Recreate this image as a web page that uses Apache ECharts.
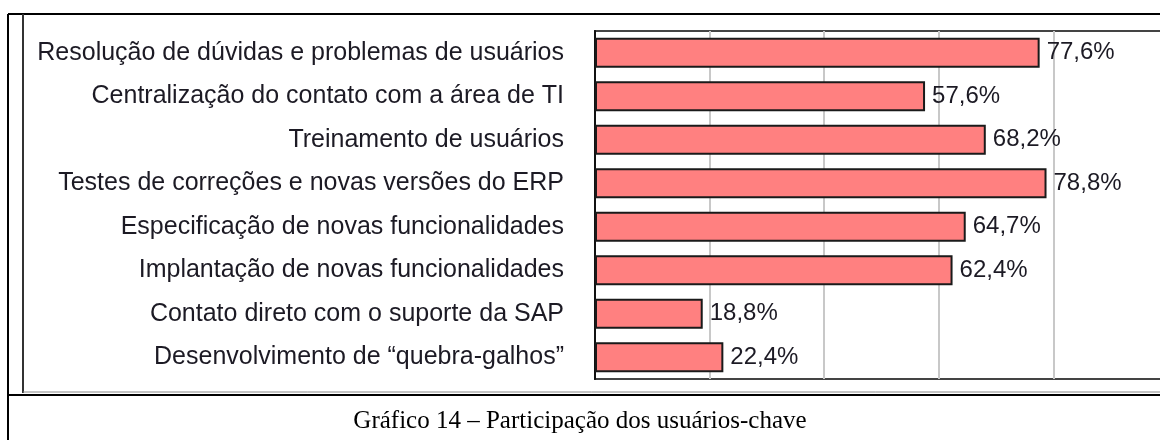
<!DOCTYPE html>
<html>
<head>
<meta charset="utf-8">
<script src="https://cdn.jsdelivr.net/npm/echarts@6/dist/echarts.min.js"></script>
<style>
  html, body { margin: 0; padding: 0; background: #fff; }
  #chart { width: 1160px; height: 440px; }
</style>
</head>
<body>
<div id="chart"></div>
<script>
// categories from top to bottom
var categories = [
  "Resolução de dúvidas e problemas de usuários",
  "Centralização do contato com a área de TI",
  "Treinamento de usuários",
  "Testes de correções e novas versões do ERP",
  "Especificação de novas funcionalidades",
  "Implantação de novas funcionalidades",
  "Contato direto com o suporte da SAP",
  "Desenvolvimento de “quebra-galhos”"
];
var values = [77.6, 57.6, 68.2, 78.8, 64.7, 62.4, 18.8, 22.4];
var caption = "Gráfico 14 – Participação dos usuários-chave";

var myChart = echarts.init(document.getElementById("chart"));

var option = {
  animation: false,
  title: {
    text: caption,
    left: "center",
    top: 409,
    padding: 0,
    textStyle: {
      fontFamily: "Liberation Serif",
      fontSize: 25,
      fontWeight: "normal",
      color: "#000"
    }
  },
  grid: {
    left: 595,
    width: 573,
    top: 31,
    bottom: 61,
    outerBoundsMode: "none",
    show: true,
    borderColor: "#444",
    borderWidth: 2
  },
  xAxis: {
    type: "value",
    min: 0,
    max: 100,
    interval: 20,
    axisLine: { show: false },
    axisTick: { show: false },
    axisLabel: { show: false },
    splitLine: { lineStyle: { color: "#c8c8c8", width: 2 } }
  },
  yAxis: {
    type: "category",
    inverse: true,
    data: categories,
    axisLine: { lineStyle: { color: "#111", width: 2 } },
    axisTick: { show: false },
    axisLabel: {
      margin: 31,
      fontFamily: "Liberation Sans",
      fontSize: 25,
      color: "#1c1a24"
    }
  },
  series: [
    {
      type: "bar",
      data: values,
      barCategoryGap: "31%",
      itemStyle: {
        color: "#ff8080",
        borderColor: "#1a1a1a",
        borderWidth: 2
      },
      label: {
        show: true,
        position: "right",
        distance: 7,
        fontFamily: "Liberation Sans",
        fontSize: 24,
        color: "#1c1a24",
        formatter: function (p) {
          return p.value.toFixed(1).replace(".", ",") + "%";
        }
      }
    }
  ],
  graphic: [
    // table frame
    { type: "line", shape: { x1: 8, y1: 14, x2: 1160, y2: 14 }, style: { stroke: "#000", lineWidth: 2 } },
    { type: "line", shape: { x1: 8, y1: 14, x2: 8, y2: 440 }, style: { stroke: "#000", lineWidth: 2 } },
    { type: "line", shape: { x1: 8, y1: 395, x2: 1160, y2: 395 }, style: { stroke: "#000", lineWidth: 2 } },
    // chart picture frame
    { type: "line", shape: { x1: 23, y1: 14, x2: 23, y2: 393 }, style: { stroke: "#333", lineWidth: 2 } },
    { type: "line", shape: { x1: 23, y1: 392, x2: 1160, y2: 392 }, style: { stroke: "#888", lineWidth: 1 } }
  ]
};

myChart.setOption(option);
</script>
</body>
</html>
